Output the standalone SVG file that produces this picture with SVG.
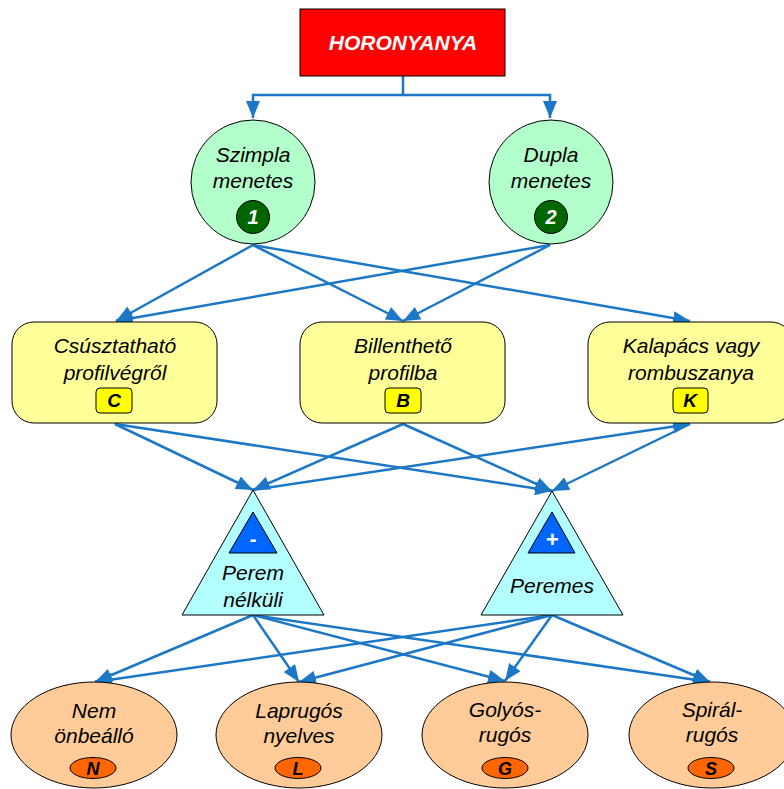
<svg xmlns="http://www.w3.org/2000/svg" width="784" height="789" viewBox="0 0 784 789">
<style>
.t{font-family:"Liberation Sans",Arial,sans-serif;font-style:italic;font-size:21px;fill:#000;text-anchor:middle}
.b{font-family:"Liberation Sans",Arial,sans-serif;font-style:italic;font-weight:bold;text-anchor:middle}
.sh{stroke:#000;stroke-width:1}
.c{fill:none;stroke:#1C78C6;stroke-width:2.5}
</style>
<defs>
<marker id="ah" markerUnits="userSpaceOnUse" markerWidth="18" markerHeight="14" refX="17" refY="7" orient="auto">
<path d="M0,0 L17,7 L0,14 z" fill="#1C78C6"/>
</marker>
</defs>
<rect width="784" height="789" fill="#fff"/>

<g id="connectors">
<path class="c" d="M403,76 V95 H253 V118" marker-end="url(#ah)"/>
<path class="c" d="M403,95 H550 V118" marker-end="url(#ah)"/>
<line class="c" x1="253" y1="245" x2="116" y2="321" marker-end="url(#ah)"/>
<line class="c" x1="253" y1="245" x2="403" y2="321" marker-end="url(#ah)"/>
<line class="c" x1="253" y1="245" x2="690" y2="321" marker-end="url(#ah)"/>
<line class="c" x1="550" y1="245" x2="116" y2="321" marker-end="url(#ah)"/>
<line class="c" x1="550" y1="245" x2="403" y2="321" marker-end="url(#ah)"/>
<line class="c" x1="115" y1="424" x2="253" y2="490" marker-end="url(#ah)"/>
<line class="c" x1="115" y1="424" x2="552" y2="491" marker-end="url(#ah)"/>
<line class="c" x1="403" y1="424" x2="253" y2="490" marker-end="url(#ah)"/>
<line class="c" x1="403" y1="424" x2="552" y2="491" marker-end="url(#ah)"/>
<line class="c" x1="253" y1="490" x2="690" y2="424" marker-end="url(#ah)"/>
<line class="c" x1="690" y1="424" x2="552" y2="491" marker-end="url(#ah)"/>
<line class="c" x1="253" y1="615" x2="95" y2="682" marker-end="url(#ah)"/>
<line class="c" x1="253" y1="615" x2="299" y2="682" marker-end="url(#ah)"/>
<line class="c" x1="253" y1="615" x2="505" y2="681" marker-end="url(#ah)"/>
<line class="c" x1="253" y1="615" x2="710" y2="682" marker-end="url(#ah)"/>
<line class="c" x1="552" y1="615" x2="95" y2="682" marker-end="url(#ah)"/>
<line class="c" x1="552" y1="615" x2="299" y2="682" marker-end="url(#ah)"/>
<line class="c" x1="552" y1="615" x2="505" y2="681" marker-end="url(#ah)"/>
<line class="c" x1="552" y1="615" x2="710" y2="682" marker-end="url(#ah)"/>
</g>

<g id="horonyanya">
<rect class="sh" x="300" y="9" width="205" height="67" fill="#FF0000"/>
<text class="b" x="403" y="50" font-size="21" fill="#fff">HORONYANYA</text>
</g>

<g id="szimpla">
<circle class="sh" cx="253" cy="182" r="62" fill="#B3FFCC"/>
<text class="t" x="253" y="162">Szimpla</text>
<text class="t" x="253" y="188">menetes</text>
<circle class="sh" cx="253" cy="217" r="16.5" fill="#006600"/>
<text class="b" x="253" y="224" font-size="20" fill="#fff">1</text>
</g>

<g id="dupla">
<circle class="sh" cx="551" cy="182" r="62" fill="#B3FFCC"/>
<text class="t" x="551" y="162">Dupla</text>
<text class="t" x="551" y="188">menetes</text>
<circle class="sh" cx="551" cy="217" r="16.5" fill="#006600"/>
<text class="b" x="551" y="224" font-size="20" fill="#fff">2</text>
</g>

<g id="csusztathato">
<rect class="sh" x="12" y="322" width="205" height="101" rx="22" fill="#FFFF99"/>
<text class="t" x="115" y="353">Csúsztatható</text>
<text class="t" x="115" y="380">profilvégről</text>
<rect class="sh" x="96" y="388" width="36" height="25" rx="4" fill="#FFFF00"/>
<text class="b" x="114" y="407" font-size="19" fill="#000">C</text>
</g>

<g id="billentheto">
<rect class="sh" x="300" y="322" width="205" height="101" rx="22" fill="#FFFF99"/>
<text class="t" x="403" y="353">Billenthető</text>
<text class="t" x="403" y="380">profilba</text>
<rect class="sh" x="385" y="388" width="36" height="25" rx="4" fill="#FFFF00"/>
<text class="b" x="403" y="407" font-size="19" fill="#000">B</text>
</g>

<g id="kalapacs">
<rect class="sh" x="588" y="322" width="205" height="101" rx="22" fill="#FFFF99"/>
<text class="t" x="691" y="353">Kalapács vagy</text>
<text class="t" x="691" y="380">rombuszanya</text>
<rect class="sh" x="673" y="388" width="35" height="25" rx="4" fill="#FFFF00"/>
<text class="b" x="690" y="407" font-size="19" fill="#000">K</text>
</g>

<g id="perem-nelkuli">
<polygon class="sh" points="253,490 324,615 182,615" fill="#B3FFFF"/>
<polygon class="sh" points="253,512 277,553 229,553" fill="#0066FF"/>
<text class="b" x="253" y="546" font-size="20" fill="#fff">-</text>
<text class="t" x="253" y="580">Perem</text>
<text class="t" x="253" y="607">nélküli</text>
</g>

<g id="peremes">
<polygon class="sh" points="552,491 623,615 481,615" fill="#B3FFFF"/>
<polygon class="sh" points="552,512 575,553 528,553" fill="#0066FF"/>
<text class="b" x="552" y="547" font-size="22" fill="#fff">+</text>
<text class="t" x="552" y="593">Peremes</text>
</g>

<g id="nem-onbeallo">
<ellipse class="sh" cx="94" cy="735" rx="83" ry="53" fill="#FFCC99"/>
<text class="t" x="94" y="718">Nem</text>
<text class="t" x="94" y="743">önbeálló</text>
<ellipse class="sh" cx="93" cy="768" rx="23" ry="10.5" fill="#FF6600"/>
<text class="b" x="93" y="775" font-size="18" fill="#000">N</text>
</g>

<g id="laprugos">
<ellipse class="sh" cx="299" cy="735" rx="83" ry="53" fill="#FFCC99"/>
<text class="t" x="299" y="718">Laprugós</text>
<text class="t" x="299" y="743">nyelves</text>
<ellipse class="sh" cx="298" cy="768" rx="23" ry="10.5" fill="#FF6600"/>
<text class="b" x="298" y="775" font-size="18" fill="#000">L</text>
</g>

<g id="golyos">
<ellipse class="sh" cx="505" cy="735" rx="83" ry="53" fill="#FFCC99"/>
<text class="t" x="505" y="717">Golyós-</text>
<text class="t" x="505" y="742">rugós</text>
<ellipse class="sh" cx="505" cy="768" rx="23" ry="10.5" fill="#FF6600"/>
<text class="b" x="505" y="775" font-size="18" fill="#000">G</text>
</g>

<g id="spiral">
<ellipse class="sh" cx="712" cy="735" rx="83" ry="53" fill="#FFCC99"/>
<text class="t" x="712" y="717">Spirál-</text>
<text class="t" x="712" y="742">rugós</text>
<ellipse class="sh" cx="711" cy="768" rx="23" ry="10.5" fill="#FF6600"/>
<text class="b" x="711" y="775" font-size="18" fill="#000">S</text>
</g>
</svg>
